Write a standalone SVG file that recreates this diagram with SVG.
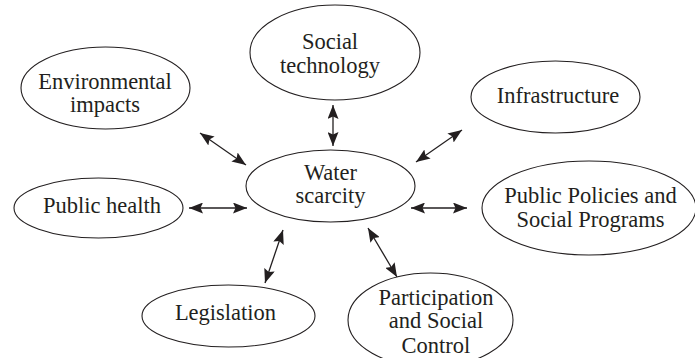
<svg xmlns="http://www.w3.org/2000/svg" width="695" height="358" viewBox="0 0 695 358">
  <style>
    .node ellipse { fill: #ffffff; stroke: #231f20; stroke-width: 1.1; }
    .node text { font-family: "Liberation Serif", "DejaVu Serif", "Times New Roman", serif; font-size: 22.5px; fill: #231f20; text-anchor: middle; }
    .link { stroke: #231f20; stroke-width: 1.3; fill: none; marker-start: url(#head); marker-end: url(#head); }
  </style>
  <defs>
    <!-- filled arrowhead with a slight notch, used at both ends of every link -->
    <marker id="head" viewBox="0 0 14 11" refX="14" refY="5.5" markerWidth="14" markerHeight="11" markerUnits="userSpaceOnUse" orient="auto-start-reverse">
      <path d="M0,0 L14,5.5 L0,11 L2.5,5.5 z" fill="#231f20"/>
    </marker>
  </defs>
  <rect width="695" height="358" fill="#ffffff"/>

  <!-- two-way links between the centre node and each factor -->
  <g id="connectors">
    <line class="link" x1="200" y1="133" x2="246" y2="165"/>
    <line class="link" x1="333" y1="105" x2="333" y2="146"/>
    <line class="link" x1="462" y1="130" x2="416" y2="162"/>
    <line class="link" x1="189" y1="208" x2="247" y2="208"/>
    <line class="link" x1="411" y1="208" x2="467" y2="208"/>
    <line class="link" x1="283" y1="230" x2="265" y2="283"/>
    <line class="link" x1="368" y1="228" x2="397" y2="277"/>
  </g>

  <g id="social-technology" class="node">
    <ellipse cx="335" cy="52.5" rx="85" ry="47.5"/>
    <text x="330" y="48.5">Social</text>
    <text x="330" y="73">technology</text>
  </g>
  <g id="environmental-impacts" class="node">
    <ellipse cx="105.5" cy="88" rx="84.5" ry="41"/>
    <text x="105" y="89">Environmental</text>
    <text x="105" y="112">impacts</text>
  </g>
  <g id="infrastructure" class="node">
    <ellipse cx="555.5" cy="97" rx="84.5" ry="36"/>
    <text x="558" y="103">Infrastructure</text>
  </g>
  <g id="water-scarcity" class="node">
    <ellipse cx="330.5" cy="186" rx="84.5" ry="36"/>
    <text x="330.5" y="180">Water</text>
    <text x="330.5" y="203">scarcity</text>
  </g>
  <g id="public-health" class="node">
    <ellipse cx="98.5" cy="208" rx="84.5" ry="30"/>
    <text x="102" y="213">Public health</text>
  </g>
  <g id="public-policies" class="node">
    <ellipse cx="589" cy="208" rx="107" ry="47"/>
    <text x="590.5" y="203">Public Policies and</text>
    <text x="590.5" y="227">Social Programs</text>
  </g>
  <g id="legislation" class="node">
    <ellipse cx="228.5" cy="316" rx="86.5" ry="31"/>
    <text x="225.5" y="320">Legislation</text>
  </g>
  <g id="participation" class="node">
    <ellipse cx="430.5" cy="320" rx="82.5" ry="47"/>
    <text x="436" y="305">Participation</text>
    <text x="436" y="328">and Social</text>
    <text x="436" y="353">Control</text>
  </g>
</svg>
